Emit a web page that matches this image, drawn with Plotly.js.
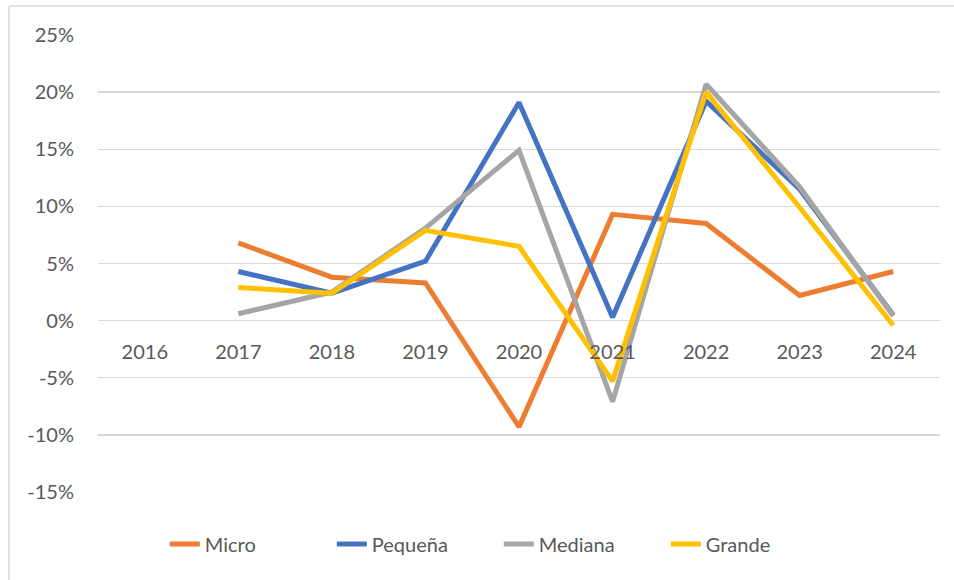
<!DOCTYPE html>
<html>
<head>
<meta charset="utf-8">
<script src="https://cdn.plot.ly/plotly-3.0.1.min.js"></script>
<style>html,body{margin:0;padding:0;background:#fff;}#chart{width:954px;height:580px;}</style>
</head>
<body>
<div id="chart"></div>
<script>
const years = ["2016","2017","2018","2019","2020","2021","2022","2023","2024"];
const micro   = [null, 6.8, 3.8, 3.3, -9.3, 9.3, 8.5, 2.2, 4.3];
const pequena = [null, 4.3, 2.4, 5.2, 19.1, 0.3, 19.2, 11.5, 0.5];
const mediana = [null, 0.6, 2.5, 8.1, 14.9, -7.1, 20.7, 11.7, 0.4];
const grande  = [null, 2.9, 2.4, 7.9, 6.5, -5.3, 20.0, 9.9, -0.4];
const seriesNames = ["Micro","Pequeña","Mediana","Grande"];
const seriesColors = ["#ED7D31","#4472C4","#A5A5A5","#FFC000"];
const yTicks = [-15,-10,-5,0,5,10,15,20,25];

const allSeries = [micro, pequena, mediana, grande];
const traces = allSeries.map((vals, i) => ({
  type: "scatter",
  mode: "lines",
  x: years,
  y: vals,
  name: seriesNames[i],
  line: {color: seriesColors[i], width: 5},
  connectgaps: false
}));

const fontFam = "Lato, 'Open Sans', sans-serif";
const layout = {
  width: 954,
  height: 580,
  margin: {l: 98, r: 14, t: 35, b: 88},
  paper_bgcolor: "#fff",
  plot_bgcolor: "#fff",
  showlegend: true,
  font: {family: fontFam, size: 20, color: "#595959"},
  xaxis: {
    type: "category",
    categoryorder: "array",
    categoryarray: years,
    range: [-0.5, 8.5],
    showgrid: false,
    zeroline: false,
    showline: false,
    ticks: "",
    anchor: "free",
    position: 0.375,
    ticklabelstandoff: 17,
    tickfont: {family: fontFam, size: 20, color: "#595959"}
  },
  yaxis: {
    range: [-15, 25],
    tickvals: yTicks,
    ticktext: yTicks.map(v => v + "%"),
    showgrid: true,
    gridcolor: "#D9D9D9",
    gridwidth: 1.3,
    zeroline: false,
    showline: false,
    ticks: "",
    ticklabelstandoff: 23,
    tickfont: {family: fontFam, size: 20, color: "#595959"}
  },
  legend: {
    orientation: "h",
    x: 0.476,
    xanchor: "center",
    y: -0.114,
    yanchor: "middle",
    font: {family: fontFam, size: 20, color: "#595959"},
    itemwidth: 30,
    entrywidth: 122,
    entrywidthmode: "pixels",
    tracegroupgap: 0
  },
  shapes: [
    {type: "line", xref: "paper", yref: "paper", x0: (9-98)/842, x1: (954-98)/842, y0: (492-6)/457, y1: (492-6)/457, line: {color: "#D9D9D9", width: 1.5}},
    {type: "line", xref: "paper", yref: "paper", x0: (9-98)/842, x1: (9-98)/842, y0: (492-6)/457, y1: (492-580)/457, line: {color: "#D9D9D9", width: 1.5}}
  ]
};

Plotly.newPlot("chart", traces, layout, {displayModeBar: false, staticPlot: true});
</script>
</body>
</html>
